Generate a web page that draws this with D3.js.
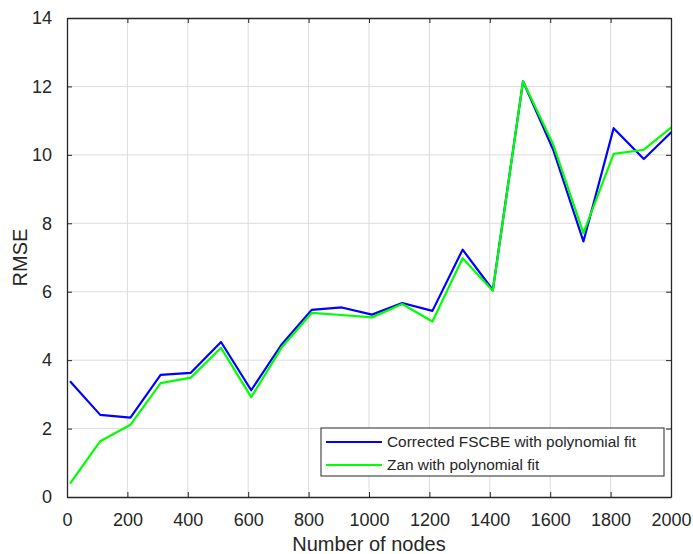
<!DOCTYPE html>
<html>
<head>
<meta charset="utf-8">
<script src="https://cdn.jsdelivr.net/npm/d3@7"></script>
<style>
  body { margin: 0; background: #fff; }
  svg text { font-family: "Liberation Sans", Arial, sans-serif; fill: #262626; }
  .grid line { stroke: #dcdcdc; stroke-width: 1; }
  .axis path, .axis line { stroke: #262626; }
  .line { fill: none; stroke-width: 2.2; stroke-linejoin: round; }
</style>
</head>
<body>
<div id="plot"></div>
<script>
const nodes = [10, 110, 210, 310, 410, 510, 610, 710, 810, 910, 1010, 1110, 1210, 1310, 1410, 1510, 1610, 1710, 1810, 1910, 2010]
const fscbe = [3.38, 2.4, 2.32, 3.57, 3.63, 4.53, 3.12, 4.45, 5.47, 5.54, 5.33, 5.67, 5.44, 7.23, 6.05, 12.15, 10.15, 7.47, 10.78, 9.88, 10.74]
const zan = [0.39, 1.63, 2.11, 3.33, 3.49, 4.36, 2.92, 4.36, 5.38, 5.32, 5.25, 5.64, 5.13, 6.98, 6.03, 12.15, 10.3, 7.71, 10.03, 10.15, 10.87]
const xTicks = d3.range(0, 2001, 200)
const yTicks = d3.range(0, 15, 2)
const seriesNames = ["Corrected FSCBE with polynomial fit", "Zan with polynomial fit"]
const seriesColors = ["#0000ff", "#00ff00"]

const w = 693, h = 554,
      margin = {top: 18, right: 22, bottom: 57, left: 67}

const x = d3.scaleLinear().domain([0, 2000]).range([margin.left, w - margin.right]),
      y = d3.scaleLinear().domain([0, 14]).range([h - margin.bottom, margin.top])

const svg = d3.select("#plot").append("svg")
  .attr("width", w)
  .attr("height", h)

// grid
const grid = svg.append("g").attr("class", "grid")
grid.selectAll(".gx").data(xTicks.slice(1, -1)).enter().append("line")
  .attr("x1", d => x(d)).attr("x2", d => x(d))
  .attr("y1", y(0)).attr("y2", y(14))
grid.selectAll(".gy").data(yTicks.slice(1, -1)).enter().append("line")
  .attr("x1", x(0)).attr("x2", x(2000))
  .attr("y1", d => y(d)).attr("y2", d => y(d))

svg.append("clipPath")
  .attr("id", "clip")
  .append("rect")
  .attr("x", x(0)).attr("y", y(14))
  .attr("width", x(2000) - x(0)).attr("height", y(0) - y(14))

const line = d3.line().x((d, i) => x(nodes[i])).y(d => y(d))

;[fscbe, zan].forEach((s, i) => {
  svg.append("path")
    .datum(s)
    .attr("class", "line")
    .attr("stroke", seriesColors[i])
    .attr("d", line)
    .attr("clip-path", "url(#clip)")
})

// axes, ticks inward on all four sides
const tickLen = -5,
      fmt = d3.format("d")
svg.append("g")
  .attr("class", "axis")
  .attr("transform", `translate(0, ${y(0)})`)
  .call(d3.axisBottom(x).tickValues(xTicks).tickFormat(fmt).tickSizeInner(tickLen).tickSizeOuter(0).tickPadding(16))
  .call(g => g.selectAll("text").style("font-size", "18px"))
svg.append("g")
  .attr("class", "axis")
  .attr("transform", `translate(0, ${y(14)})`)
  .call(d3.axisTop(x).tickValues(xTicks).tickSizeInner(tickLen).tickSizeOuter(0).tickFormat(""))
svg.append("g")
  .attr("class", "axis")
  .attr("transform", `translate(${x(0)}, 0)`)
  .call(d3.axisLeft(y).tickValues(yTicks).tickFormat(fmt).tickSizeInner(tickLen).tickSizeOuter(0).tickPadding(15))
  .call(g => g.selectAll("text").style("font-size", "18px"))
svg.append("g")
  .attr("class", "axis")
  .attr("transform", `translate(${x(2000)}, 0)`)
  .call(d3.axisRight(y).tickValues(yTicks).tickSizeInner(tickLen).tickSizeOuter(0).tickFormat(""))

svg.selectAll(".axis .domain").attr("stroke-width", 1.3)

// axis labels
svg.append("text")
  .attr("x", (x(0) + x(2000)) / 2)
  .attr("y", h - 3)
  .style("text-anchor", "middle")
  .style("font-size", "20px")
  .text("Number of nodes")

svg.append("text")
  .attr("transform", "rotate(-90)")
  .attr("x", -(y(0) + y(14)) / 2)
  .attr("y", 27)
  .style("text-anchor", "middle")
  .style("font-size", "20px")
  .text("RMSE")

// legend
const lg = svg.append("g").attr("transform", "translate(321, 428)")
lg.append("rect")
  .attr("width", 343).attr("height", 48)
  .attr("fill", "#fff").attr("stroke", "#262626").attr("stroke-width", 1)
seriesNames.forEach((n, i) => {
  lg.append("line")
    .attr("x1", 5).attr("x2", 61)
    .attr("y1", 14 + i * 23).attr("y2", 14 + i * 23)
    .attr("stroke", seriesColors[i]).attr("stroke-width", 2.2)
  lg.append("text")
    .attr("x", 66).attr("y", 14 + i * 23)
    .attr("dy", "0.35em")
    .style("font-size", "15.4px")
    .text(n)
})
</script>
</body>
</html>
